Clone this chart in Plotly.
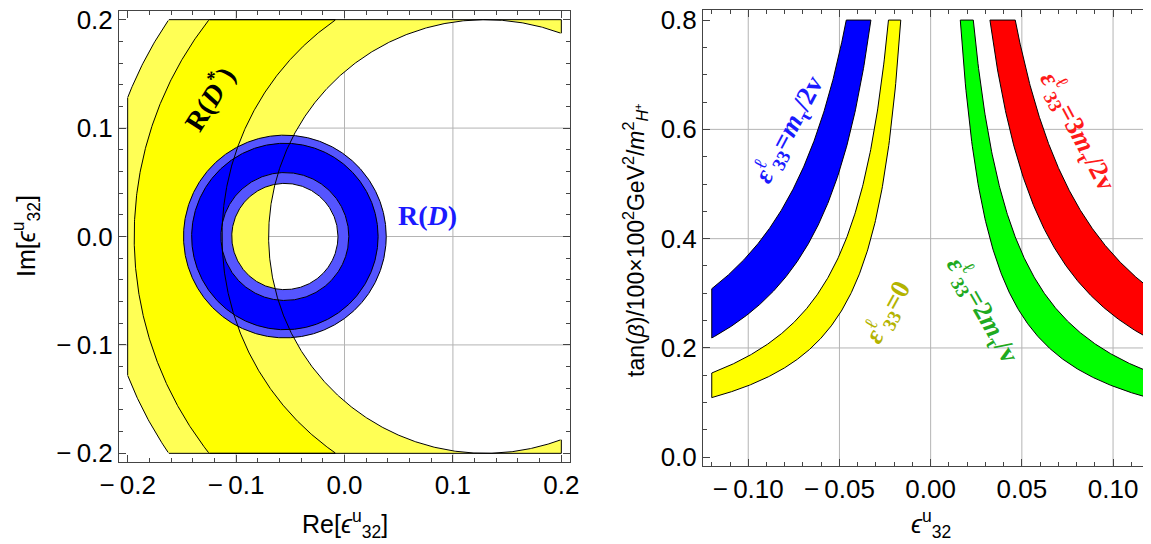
import numpy as np
import plotly.graph_objects as go

# ---------------- data ----------------
# Left panel: R(D*) bands are annuli centred on (dstar_cx, 0)
dstar_cx = 0.13
dstar_light_radii = [0.200, 0.354]   # 2-sigma band (inner, outer)
dstar_dark_radii = [0.243, 0.324]    # 1-sigma band (inner, outer)
# R(D) rings centred on (rd_cx, 0)
rd_cx = -0.055
rd_light_radii = [0.049, 0.0935]
rd_dark_radii = [0.059, 0.086]
left_box = 0.2
left_ticks = [-0.2, -0.1, 0.0, 0.1, 0.2]
left_ticktext = ["\u2212\u20090.2", "\u2212\u20090.1", "0.0", "0.1", "0.2"]
left_grid = [-0.1, 0.0, 0.1]

# Right panel: bands  y = k/|x| between k_low and k_high
band_names = ["blue", "yellow", "green", "red"]
band_side = [-1, -1, 1, 1]
band_k_low = [0.0262, 0.0131, 0.0130, 0.0260]
band_k_high = [0.0370, 0.0185, 0.0187, 0.0371]
band_colors = ["#0000FF", "#FFFF00", "#00FF00", "#FF0000"]
band_xmax = 0.12
band_ymax = 0.8
right_xticks = [-0.10, -0.05, 0.0, 0.05, 0.10]
right_xticktext = ["\u2212\u20090.10", "\u2212\u20090.05", "0.00", "0.05", "0.10"]
right_yticks = [0.0, 0.2, 0.4, 0.6, 0.8]
right_yticktext = ["0.0", "0.2", "0.4", "0.6", "0.8"]
right_ygrid = [0.2, 0.4, 0.6]

band_labels = [
    "<b><i>ε</i><sup>ℓ</sup><sub>33</sub>=<i>m</i><sub>τ</sub>/2v</b>",
    "<b><i>ε</i><sup>ℓ</sup><sub>33</sub>=0</b>",
    "<b><i>ε</i><sup>ℓ</sup><sub>33</sub>=2<i>m</i><sub>τ</sub>/v</b>",
    "<b><i>ε</i><sup>ℓ</sup><sub>33</sub>=3<i>m</i><sub>τ</sub>/2v</b>",
]
band_label_x = [-0.078, -0.024, 0.029, 0.081]
band_label_y = [0.600, 0.266, 0.270, 0.597]
band_label_angle = [-62, -61, 60, 62]
band_label_colors = ["#1a1aff", "#b3b300", "#1faa1f", "#ff1a1a"]

# ---------------- helpers ----------------
def circle(cx, r, n=1441):
    t = np.linspace(0, 2 * np.pi, n)
    return cx + r * np.cos(t), r * np.sin(t)

def clamp_circle(cx, r, b):
    x, y = circle(cx, r)
    return np.clip(x, -b, b), np.clip(y, -b, b)

def annulus_fill(cx, rin, rout, b=None):
    if b is None:
        xo, yo = circle(cx, rout)
        xi, yi = circle(cx, rin)
    else:
        xo, yo = clamp_circle(cx, rout, b)
        xi, yi = clamp_circle(cx, rin, b)
    xs = list(xo) + [None] + list(xi[::-1])
    ys = list(yo) + [None] + list(yi[::-1])
    return xs, ys

def masked(x, y, mask):
    xs = [float(a) if m else None for a, m in zip(x, mask)]
    ys = [float(a) if m else None for a, m in zip(y, mask)]
    return xs, ys

def annulus_outline(cx, rin, rout, b):
    xs, ys = [], []
    eps = 1e-9
    for r in (rin, rout):
        x, y = circle(cx, r)
        m = (np.abs(x) <= b + eps) & (np.abs(y) <= b + eps)
        a, c = masked(x, y, m)
        xs += a + [None]
        ys += c + [None]
    s = np.linspace(-b, b, 801)
    edges = [(s, np.full_like(s, b)), (s, np.full_like(s, -b)),
             (np.full_like(s, b), s), (np.full_like(s, -b), s)]
    for x, y in edges:
        d = np.hypot(x - cx, y)
        m = (d >= rin) & (d <= rout)
        a, c = masked(x, y, m)
        xs += a + [None]
        ys += c + [None]
    return xs, ys

fig = go.Figure()

# ---------------- left panel ----------------
LY, DY, LB, DB = "#FFFF55", "#FFFF00", "#5555FF", "#0000FF"
for (rin, rout), col in [(dstar_light_radii, LY), (dstar_dark_radii, DY)]:
    x, y = annulus_fill(dstar_cx, rin, rout, left_box)
    fig.add_trace(go.Scatter(x=x, y=y, mode="none", fill="toself", fillcolor=col,
                             hoverinfo="skip", showlegend=False, xaxis="x", yaxis="y"))
for (rin, rout), col in [(rd_light_radii, LB), (rd_dark_radii, DB)]:
    x, y = annulus_fill(rd_cx, rin, rout)
    fig.add_trace(go.Scatter(x=x, y=y, mode="none", fill="toself", fillcolor=col,
                             hoverinfo="skip", showlegend=False, xaxis="x", yaxis="y"))
ox, oy = [], []
for rin, rout in (dstar_light_radii, dstar_dark_radii):
    a, c = annulus_outline(dstar_cx, rin, rout, left_box)
    ox += a
    oy += c
for r in rd_light_radii + rd_dark_radii:
    x, y = circle(rd_cx, r)
    ox += list(x) + [None]
    oy += list(y) + [None]
fig.add_trace(go.Scatter(x=ox, y=oy, mode="lines", line=dict(color="black", width=1),
                         hoverinfo="skip", showlegend=False, xaxis="x", yaxis="y"))

# ---------------- right panel ----------------
for side, klo, khi, col in zip(band_side, band_k_low, band_k_high, band_colors):
    xlo = np.linspace(klo / band_ymax, band_xmax, 300)
    xhi = np.linspace(khi / band_ymax, band_xmax, 300)
    px = np.concatenate([xlo, xhi[::-1], xlo[:1]]) * side
    py = np.concatenate([klo / xlo, (khi / xhi)[::-1], [klo / xlo[0]]])
    fig.add_trace(go.Scatter(x=px, y=py, mode="lines", fill="toself", fillcolor=col,
                             line=dict(color="black", width=1), hoverinfo="skip",
                             showlegend=False, xaxis="x2", yaxis="y2"))

# ---------------- gridlines ----------------
GRID = "#b4b4b4"
shapes = []
for g in left_grid:
    shapes.append(dict(type="line", xref="x", yref="y domain", x0=g, x1=g, y0=0, y1=1,
                       line=dict(color=GRID, width=1), layer="below"))
    shapes.append(dict(type="line", xref="x domain", yref="y", x0=0, x1=1, y0=g, y1=g,
                       line=dict(color=GRID, width=1), layer="below"))
for g in right_xticks:
    shapes.append(dict(type="line", xref="x2", yref="y2 domain", x0=g, x1=g, y0=0, y1=1,
                       line=dict(color=GRID, width=1), layer="below"))
for g in right_ygrid:
    shapes.append(dict(type="line", xref="x2 domain", yref="y2", x0=0, x1=1, y0=g, y1=g,
                       line=dict(color=GRID, width=1), layer="below"))

# ---------------- page geometry ----------------
OFF = 8                 # the page body margin of the browser
W, H = 1151 - OFF, 544 - OFF

def fx(p):
    return (p - OFF) / W

def fy(p):
    return 1 - (p - OFF) / H

# ---------------- annotations ----------------
SERIF = "Liberation Serif, Times New Roman, serif"
SANS = "Liberation Sans, Arial, sans-serif"
ann = [
    dict(x=-0.125, y=0.128, xref="x", yref="y", text="<b>R(<i>D</i><sup>*</sup>)</b>",
         textangle=-58, showarrow=False, font=dict(family=SERIF, size=28, color="black")),
    dict(x=0.077, y=0.019, xref="x", yref="y", text="<b>R(<i>D</i>)</b>",
         showarrow=False, font=dict(family=SERIF, size=28, color="#1a1aff")),
]
for t, x, y, a, c in zip(band_labels, band_label_x, band_label_y, band_label_angle, band_label_colors):
    ann.append(dict(x=x, y=y, xref="x2", yref="y2", text=t, textangle=a, showarrow=False,
                    font=dict(family=SERIF, size=27, color=c)))
TF = dict(family=SANS, size=25, color="black")
C = dict(xref="paper", yref="paper", showarrow=False, xanchor="center", yanchor="middle")
ann += [
    dict(x=fx(345), y=fy(524), text="Re[<i>ϵ</i><sup>u</sup><sub>32</sub>]", font=TF, **C),
    dict(x=fx(26), y=fy(236), textangle=-90, text="Im[<i>ϵ</i><sup>u</sup><sub>32</sub>]", font=TF, **C),
    dict(x=fx(931), y=fy(524), text="<i>ϵ</i><sup>u</sup><sub>32</sub>", font=TF, **C),
    dict(x=fx(635), y=fy(240), textangle=-90,
         text="tan(<i>β</i>)/100×100<sup>2</sup>GeV<sup>2</sup>/<i>m</i><sup>2</sup><sub><i>H</i><sup>+</sup></sub>",
         font=dict(family=SANS, size=23, color="black"), **C),
]

# ---------------- axes ----------------
FRAME = "#444444"

def ax(**kw):
    d = dict(showgrid=False, zeroline=False, showline=True, linecolor=FRAME, linewidth=1,
             mirror="allticks", ticks="inside", ticklen=7, tickcolor=FRAME, tickwidth=1,
             automargin=False, ticklabeloverflow="allow",
             tickfont=dict(family=SANS, size=26, color="black"))
    d.update(kw)
    return d

fig.update_layout(
    width=W, height=H, margin=dict(l=0, r=0, t=0, b=0, autoexpand=False),
    paper_bgcolor="white", plot_bgcolor="white",
    shapes=shapes, annotations=ann,
    xaxis=ax(domain=[fx(119), fx(570)], range=[-0.208, 0.208], tickvals=left_ticks,
             ticktext=left_ticktext, anchor="y",
             minor=dict(dtick=0.02, tick0=0, ticklen=4, ticks="inside", tickcolor=FRAME)),
    yaxis=ax(domain=[fy(462), fy(11)], range=[-0.208, 0.208], tickvals=left_ticks,
             ticktext=left_ticktext, anchor="x",
             minor=dict(dtick=0.02, tick0=0, ticklen=4, ticks="inside", tickcolor=FRAME)),
    xaxis2=ax(domain=[fx(703), 1.0], range=[-0.1248, 0.1208], tickvals=right_xticks,
              ticktext=right_xticktext, anchor="y2",
              minor=dict(dtick=0.01, tick0=0, ticklen=4, ticks="inside", tickcolor=FRAME)),
    yaxis2=ax(domain=[fy(466), fy(10.4)], range=[-0.016, 0.8177], tickvals=right_yticks,
              ticktext=right_yticktext, anchor="x2",
              minor=dict(dtick=0.05, tick0=0, ticklen=4, ticks="inside", tickcolor=FRAME)),
)

fig.write_html("out.html")
